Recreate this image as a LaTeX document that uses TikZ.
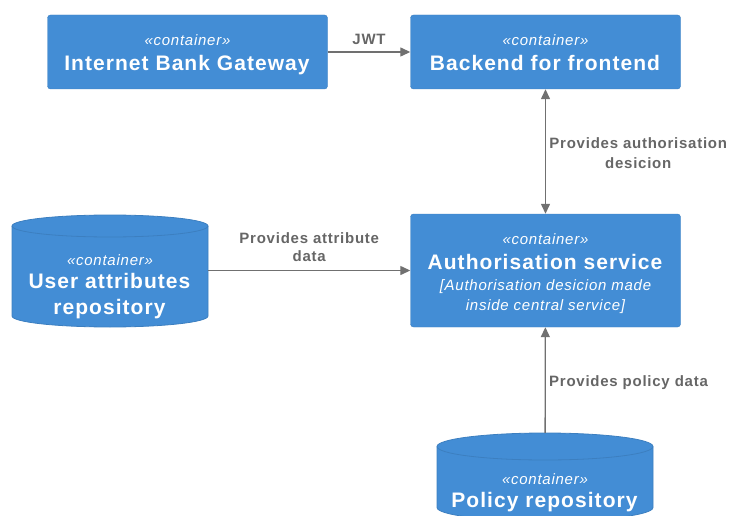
\documentclass[tikz,border=0pt]{standalone}
\usepackage{fontspec}
\setmainfont{Liberation Sans}[LetterSpace=5]
\usetikzlibrary{arrows.meta}

\definecolor{contfill}{HTML}{438DD5}
\definecolor{contline}{HTML}{3C7FC0}
\definecolor{relline}{HTML}{707070}
\definecolor{reltext}{HTML}{666666}

\newcommand{\stereo}{{\fontsize{15}{18}\selectfont\itshape\rule{0pt}{17pt}«container»}}
\newcommand{\dstrut}{\rule[-4.5pt]{0pt}{4.5pt}}

\begin{document}
\begin{tikzpicture}[x=1pt, y=-1pt,
  container/.style={rectangle, rounded corners=3pt, draw=contline, fill=contfill, text=white,
    align=center, inner sep=0pt, font=\fontsize{21}{24}\selectfont},
  dbbox/.style={rectangle, inner sep=0pt},
  dbtext/.style={text=white, align=center, inner sep=0pt, font=\fontsize{21}{24}\selectfont},
  dbbody/.style={fill=contfill, draw=contline, line width=0.8pt},
  rel/.style={draw=relline, line width=1.3pt, -{Triangle[length=10pt, width=9pt]}},
  rellabel/.style={text=reltext, align=center, font=\bfseries\fontsize{15}{18}\selectfont}
]
\useasboundingbox (0,0) rectangle (731,516);

% databases, drawn as cylinders
\path[dbbody] (12,226) -- (12,316) arc[start angle=180, end angle=360, x radius=98pt, y radius=11pt]
  -- (208,226) arc[start angle=0, end angle=180, x radius=98pt, y radius=11pt] -- cycle;
\draw[contline, line width=0.8pt] (12,226) arc[start angle=180, end angle=360, x radius=98pt, y radius=11pt];
\path[dbbody] (437,446.5) -- (437,507.5) arc[start angle=180, end angle=360, x radius=108pt, y radius=13.5pt]
  -- (653,446.5) arc[start angle=0, end angle=180, x radius=108pt, y radius=13.5pt] -- cycle;
\draw[contline, line width=0.8pt] (437,446.5) arc[start angle=180, end angle=360, x radius=108pt, y radius=13.5pt];

\node[dbbox, minimum width=196pt, minimum height=112pt,
  label={[dbtext, yshift=-13pt]center:\stereo\\[-1pt]\textbf{User attributes}\\[2pt]\textbf{repository}}]
  (userrepo) at (110,271) {};
\node[dbbox, minimum width=216pt, minimum height=88pt,
  label={[dbtext, yshift=-13pt]center:\stereo\\[-1pt]\textbf{Policy repository}}]
  (polrepo) at (545,477) {};

% containers
\node[container, minimum width=280pt, minimum height=74pt] (ibg) at (187.5,52)
  {\stereo\\[1pt]\textbf{Internet Bank Gateway}};
\node[container, minimum width=270pt, minimum height=74pt] (bff) at (545.5,52)
  {\stereo\\[1pt]\textbf{Backend for frontend}\dstrut};
\node[container, minimum width=270pt, minimum height=113pt] (auth) at (545.5,270.5)
  {\stereo\\[1pt]\textbf{Authorisation service}\\[-3pt]
   {\fontsize{15}{18}\selectfont\itshape [Authorisation desicion made}\\[-4pt]
   {\fontsize{15}{18}\selectfont\itshape inside central service]}};

% relations
\draw[rel] (ibg) -- node[rellabel, above=3pt] (jwtlbl) {JWT} (bff);
\draw[rel, {Triangle[length=10pt, width=9pt]}-{Triangle[length=10pt, width=9pt]}] (bff) -- node[rellabel, right, yshift=-2pt] (declbl) {Provides authorisation\\[2pt]desicion} (auth);
\draw[rel] (userrepo.east |- auth.west) -- node[rellabel, above=5pt] (attrlbl) {Provides attribute\\data} (auth.west);
\draw[rel] (polrepo) -- node[rellabel, right, yshift=-3pt] (pollbl) {Provides policy data} (auth);
\end{tikzpicture}
\end{document}
